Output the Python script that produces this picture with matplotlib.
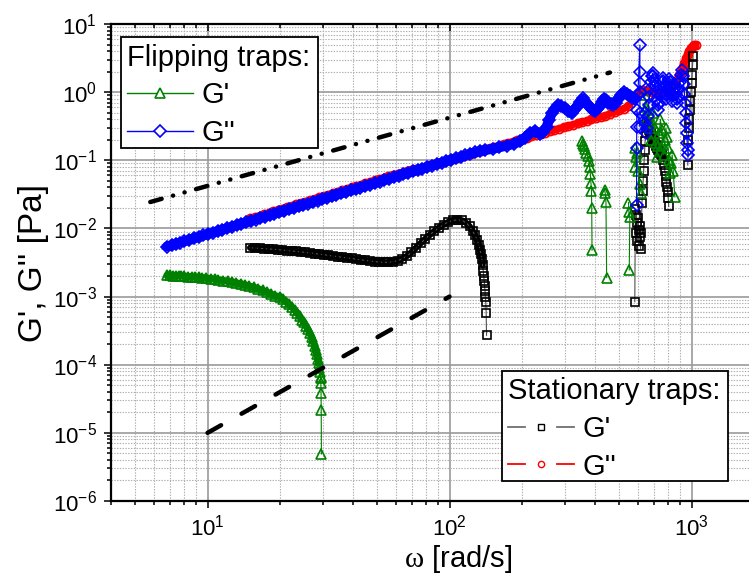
import numpy as np
import matplotlib
matplotlib.use("Agg")
import matplotlib.pyplot as plt
from matplotlib.lines import Line2D
from matplotlib.patches import Rectangle
from matplotlib.legend_handler import HandlerBase
from matplotlib.ticker import LogLocator, NullFormatter

plt.rcParams['font.family'] = ['Liberation Sans', 'DejaVu Sans']
plt.rcParams['mathtext.fontset'] = 'custom'
plt.rcParams['mathtext.rm'] = 'Liberation Sans'
plt.rcParams['mathtext.it'] = 'Liberation Serif'
plt.rcParams['mathtext.bf'] = 'Liberation Sans:bold'
plt.rcParams['axes.unicode_minus'] = False
plt.rcParams['lines.scale_dashes'] = False

nan = float('nan')

# ---------------- data ----------------
# Flipping traps, G' (green)
flip_gp_x = [6.8, 7.0, 7.2, 7.4, 7.6, 7.8, 8.0, 8.3, 8.6, 8.9, 9.2, 9.5, 9.9, 10.3, 10.7,
             11.1, 11.6, 12.1, 12.6, 13.1, 13.7, 14.3, 14.9, 15.5, 16.2, 16.9, 17.6, 18.3,
             19.0, 19.9, 20.5, 21.1, 21.7, 22.3, 22.9, 23.5, 24.0, 24.5, 25.0, 25.5, 26.0,
             26.5, 26.9, 27.3, 27.7, 28.0, 28.3, 28.6, 28.8, 29.0, 29.15, 29.3, 29.35, 29.4,
             29.45, 29.5, 29.55,
             nan,
             352, 356, 360, 364, 368, 372, 376, 379, 382, 384, 386, 387, 388,
             nan,
             437, 440, 443, 446,
             nan,
             549, 551, 556, 553,
             nan,
             583, 585, 588, 593, 600, 610, 620,
             nan,
             640, 648, 656, 664, 672, 680, 688, 696, 704, 712, 720, 728, 736, 744, 752, 760,
             768, 776, 784, 792, 800, 808, 816, 824, 832, 840, 853]
flip_gp_y = [2.05e-3, 2.04e-3, 2.03e-3, 2.02e-3, 2.01e-3, 2.0e-3, 1.99e-3, 1.97e-3, 1.95e-3,
             1.93e-3, 1.91e-3, 1.89e-3, 1.86e-3, 1.83e-3, 1.80e-3, 1.76e-3, 1.72e-3, 1.68e-3,
             1.64e-3, 1.59e-3, 1.54e-3, 1.48e-3, 1.42e-3, 1.37e-3, 1.30e-3, 1.23e-3, 1.16e-3,
             1.09e-3, 1.02e-3, 1.0e-3, 9.2e-4, 8.4e-4, 7.7e-4, 7.0e-4, 6.4e-4, 5.7e-4, 5.1e-4,
             4.6e-4, 4.2e-4, 3.7e-4, 3.3e-4, 2.9e-4, 2.55e-4, 2.2e-4, 1.9e-4, 1.65e-4, 1.42e-4,
             1.22e-4, 1.05e-4, 9.0e-5, 7.8e-5, 6.6e-5, 6.4e-5, 5.4e-5, 3.9e-5, 2.2e-5, 4.9e-6,
             nan,
             0.19, 0.175, 0.16, 0.145, 0.13, 0.115, 0.098, 0.08, 0.062, 0.047, 0.035, 0.0197,
             0.0048,
             nan,
             0.0366, 0.033, 0.0245, 0.0019,
             nan,
             0.024, 0.0176, 0.0148, 0.00245,
             nan,
             0.15, 0.08, 0.11, 0.13, 0.07, 0.045, 0.033,
             nan,
             0.9, 0.6, 0.4, 0.55, 0.3, 0.2, 0.35, 0.5, 0.3, 0.18, 0.11, 0.16, 0.25, 0.4, 0.28,
             0.17, 0.12, 0.2, 0.3, 0.22, 0.15, 0.1, 0.065, 0.09, 0.12, 0.07, 0.029]

# Flipping traps, G'' (blue)
flip_gpp_x = [6.8, 7.1, 7.4, 7.7, 8.0, 8.4, 8.8, 9.2, 9.6, 10.0, 10.5, 11.0, 11.5, 12.0, 12.6,
              13.2, 13.8, 14.4, 15.1, 15.8, 16.5, 17.3, 18.1, 18.9, 19.8, 20.7, 21.7, 22.7,
              23.8, 24.9, 26.0, 27.2, 28.5, 29.8, 31.2, 32.6, 34.1, 35.7, 37.4, 39.1, 40.9,
              42.8, 44.8, 46.9, 49.1, 51.4, 53.8, 56.3, 58.9, 61.6, 64.5, 67.5, 70.6, 73.9,
              77.3, 80.9, 84.7, 88.6, 92.7, 97.0, 101.5, 106.2, 111.1, 116.3, 121.7, 127.3,
              133.2, 140, 151.6, 160, 172.2, 185, 195.5, 205, 214.9, 225.4, 236.4, 244, 251.9,
              258, 264.1, 272, 281.4, 290, 299.9, 310, 319.6, 327, 335.2, 346, 356.9, 368,
              380.2, 390, 398.7, 408, 418.3, 426, 434.5, 444, 452.9, 464, 474.9, 486, 497.9,
              512, 525.7, 541, 556.6, 570, 583.4,
              600, 612, 612, 612, 612, 612, 612, 594, 594, 593, 593,
              nan,
              640, 645, 650, 655, 660, 665, 670, 675, 680, 685, 690, 695, 700, 706, 712, 718,
              724, 730, 736, 742, 748, 754, 760, 766, 772, 778, 784, 790, 796, 802, 808, 814,
              820, 826, 832, 838, 844, 850, 856, 862, 868, 874, 880, 888, 896, 904, 912, 920,
              928, 935, 940, 945, 950, 955, 960, 965, 970]
flip_gpp_y = [0.00542, 0.00568, 0.00594, 0.00620, 0.00646, 0.00681, 0.00717, 0.00752, 0.00788,
              0.00823, 0.00868, 0.00913, 0.00958, 0.01003, 0.01058, 0.01113, 0.01167, 0.01223,
              0.01288, 0.01352, 0.01417, 0.01492, 0.01567, 0.01642, 0.01727, 0.01813, 0.01908,
              0.02003, 0.02109, 0.02214, 0.02321, 0.02438, 0.02564, 0.02692, 0.02829, 0.02968,
              0.03115, 0.03274, 0.03443, 0.03614, 0.03795, 0.03986, 0.04190, 0.04403, 0.04628,
              0.04864, 0.05111, 0.05370, 0.05638, 0.05920, 0.06223, 0.06536, 0.06863, 0.07212,
              0.07574, 0.07955, 0.08362, 0.08782, 0.09226, 0.09690, 0.1018, 0.1069, 0.1123,
              0.1180, 0.1239, 0.1301, 0.1367, 0.141, 0.148, 0.155, 0.164, 0.175, 0.19, 0.215,
              0.25, 0.27, 0.245, 0.26, 0.311, 0.39, 0.489, 0.57, 0.647, 0.62, 0.579, 0.53,
              0.489, 0.54, 0.611, 0.72, 0.812, 0.7, 0.6, 0.54, 0.52, 0.56, 0.63, 0.72, 0.8,
              0.76, 0.7, 0.66, 0.65, 0.7, 0.8, 0.92, 1.0, 0.95, 0.88, 0.82, 0.8,
              0.9, 4.9, 2.0, 1.35, 1.0, 0.49, 0.31, 0.55, 0.31, 0.15, 0.022,
              nan,
              0.5, 0.35, 0.25, 0.3, 0.45, 0.65, 0.85, 1.1, 1.4, 1.7, 1.9, 1.75, 1.5, 1.25, 1.0,
              0.8, 0.65, 0.55, 0.7, 0.9, 1.15, 1.4, 1.6, 1.45, 1.2, 0.95, 0.8, 0.9, 1.1, 1.35,
              1.55, 1.4, 1.15, 0.9, 0.75, 0.9, 1.1, 1.3, 1.15, 0.95, 0.8, 0.7, 0.85, 1.1, 1.4,
              1.8, 2.1, 1.7, 1.3, 0.95, 0.7, 0.5, 0.35, 0.25, 0.18, 0.14, 0.12]

# Stationary traps, G' (black)
stat_gp_x = [15.0, 15.7, 16.4, 17.1, 17.9, 18.7, 19.5, 20.4, 21.3, 22.3, 23.3, 24.3, 25.4,
             26.5, 27.7, 29.0, 30.3, 31.6, 33.0, 34.5, 36.1, 37.7, 39.4, 41.2, 43.0, 44.9,
             46.9, 49.0, 51.2, 53.5, 55.9, 58.4, 61.0, 63.7, 66.6, 69.6, 72.7, 75.9, 79.3,
             82.9, 86.6, 90.5, 94.5, 98.8, 103.2, 107.8, 112.6, 117.0, 121.0, 124.5, 127.5,
             130.0, 132.0, 133.7, 135.0, 136.1, 137.0, 137.8, 138.5, 139.1, 139.7, 140.2,
             140.7, 141.2, 141.7, 142.2,
             nan,
             583, 586, 589, 592, 595, 598, 601, 604, 607, 610, 613, 616, 619, 624, 628, 631,
             634, 637, 640, 643, 646, 649, 652, 655, 658, 661, 664, 667, 670, 674, 678, 682,
             686, 690, 695, 700, 705, 710, 716, 722, 728, 734, 740, 746, 752, 758, 765, 770,
             776, 782, 788, 793, 797, 801, 805,
             nan,
             965, 970, 975, 980, 985, 990, 995, 1000, 1005, 1010, 1015]
stat_gp_y = [5.20e-3, 5.15e-3, 5.10e-3, 5.05e-3, 5.00e-3, 4.94e-3, 4.88e-3, 4.81e-3, 4.74e-3,
             4.67e-3, 4.60e-3, 4.53e-3, 4.45e-3, 4.37e-3, 4.28e-3, 4.19e-3, 4.10e-3, 4.02e-3,
             3.94e-3, 3.86e-3, 3.78e-3, 3.70e-3, 3.62e-3, 3.54e-3, 3.46e-3, 3.39e-3, 3.32e-3,
             3.26e-3, 3.21e-3, 3.18e-3, 3.18e-3, 3.24e-3, 3.36e-3, 3.58e-3, 3.93e-3, 4.45e-3,
             5.20e-3, 6.05e-3, 7.00e-3, 8.05e-3, 9.15e-3, 1.03e-2, 1.14e-2, 1.24e-2, 1.31e-2,
             1.34e-2, 1.31e-2, 1.21e-2, 1.07e-2, 9.2e-3, 7.9e-3, 6.8e-3, 5.8e-3, 4.9e-3,
             4.15e-3, 3.5e-3, 2.9e-3, 2.4e-3, 2.0e-3, 1.68e-3, 1.42e-3, 1.2e-3, 1.0e-3,
             8.2e-4, 5.8e-4, 2.7e-4,
             nan,
             8.4e-4, 0.019, 0.0086, 0.016, 0.012, 0.0066, 0.014, 0.0095, 0.0055, 0.011, 0.0075,
             0.005, 0.0085, 0.024, 0.035, 0.05, 0.07, 0.1, 0.14, 0.19, 0.25, 0.3, 0.34, 0.37,
             0.35, 0.33, 0.31, 0.3, 0.28, 0.27, 0.255, 0.24, 0.225, 0.21, 0.2, 0.19, 0.18,
             0.17, 0.16, 0.15, 0.142, 0.135, 0.13, 0.125, 0.122, 0.12, 0.1, 0.085, 0.07,
             0.058, 0.048, 0.04, 0.034, 0.028, 0.021,
             nan,
             0.085, 0.2, 0.3, 0.4, 0.55, 0.75, 1.0, 1.35, 1.8, 2.5, 3.4]

# Stationary traps, G'' (red)
stat_gpp_x = [15.0, 15.7, 16.4, 17.1, 17.9, 18.7, 19.5, 20.4, 21.3, 22.3, 23.3, 24.3, 25.4,
              26.5, 27.7, 29.0, 30.3, 31.6, 33.0, 34.5, 36.1, 37.7, 39.4, 41.2, 43.0, 44.9,
              46.9, 49.0, 51.2, 53.5, 55.9, 58.4, 61.0, 63.7, 66.6, 69.6, 72.7, 75.9, 79.3,
              82.9, 86.6, 90.5, 94.5, 98.8, 103.2, 107.8, 112.6, 117.7, 123.0, 128.5, 134.3,
              140.3, 146.6, 153.2, 160.1, 167.3, 174.8, 182.7, 190.9, 199.5, 208.5, 217.9,
              227.7, 237.9, 248.6, 259.8, 271.5, 283.7, 296.5, 309.8, 323.7, 338.3, 353.5,
              369.4, 386.0, 403.4, 421.6, 440.5, 460.3, 481.0, 502.6, 525.2, 548.8, 573.5,
              599.3, 626.3, 654.5, 683.9, 714.7, 746.9, 780.5, 815.6, 852.3, 890.7, 905, 920,
              935, 950, 965, 980, 995, 1010, 1025, 1040]
stat_gpp_y = [0.01402, 0.01473, 0.01544, 0.01616, 0.01698, 0.01780, 0.01863, 0.01956, 0.02050,
              0.02155, 0.02260, 0.02366, 0.02482, 0.02599, 0.02727, 0.02866, 0.03005, 0.03146,
              0.03297, 0.03459, 0.03634, 0.03809, 0.03996, 0.04195, 0.04393, 0.04604, 0.04829,
              0.05063, 0.05310, 0.05569, 0.05840, 0.06124, 0.06348, 0.06607, 0.06888, 0.07175,
              0.07470, 0.07773, 0.08096, 0.08438, 0.08785, 0.09151, 0.09526, 0.09954, 0.1036,
              0.1086, 0.1139, 0.1195, 0.1253, 0.1315, 0.1379, 0.144, 0.151, 0.157, 0.164,
              0.172, 0.180, 0.188, 0.196, 0.205, 0.214, 0.224, 0.234, 0.244, 0.255, 0.267,
              0.279, 0.291, 0.305, 0.318, 0.333, 0.348, 0.363, 0.380, 0.397, 0.415, 0.43, 0.45,
              0.48, 0.51, 0.54, 0.57, 0.63, 0.78, 0.98, 1.08, 1.05, 1.0, 0.97, 0.97, 1.0,
              1.05, 1.3, 1.8, 2.0, 2.3, 2.7, 3.2, 3.6, 4.0, 4.4, 4.75, 4.9, 4.95]

# guide lines
guide_slope1_x = [5.8, 460]
guide_slope1_y = [0.0244, 1.94]
guide_slope2_x = [10, 100]
guide_slope2_y = [1e-5, 1e-3]

xlim = (3.98, 1728)
ylim = (1e-6, 10)

# last index of the densely sampled (overlapping) part of each series
n_green_dense = flip_gp_x.index(28.8) + 1
n_blue_dense = flip_gpp_x.index(583.4) + 1
n_black_dense = stat_gp_x.index(137.0) + 1
n_red_dense = len(stat_gpp_x)

# ---------------- figure ----------------
W, H = 749, 584
fig = plt.figure(figsize=(W / 100, H / 100), dpi=100)
L, R, T, B = 110.7, 749, 24, 501
ax = fig.add_axes([L / W, 1 - B / H, (R - L) / W, (B - T) / H])
ax.set_xscale('log')
ax.set_yscale('log')
ax.set_xlim(*xlim)
ax.set_ylim(*ylim)

ax.set_axisbelow(True)
ax.grid(which='major', color='#9a9a9a', lw=1.2, ls='-')
ax.grid(which='minor', color='#b0b0b0', lw=0.8, ls=(0, (1.0, 1.0)))

ax.xaxis.set_minor_locator(LogLocator(base=10, subs=np.arange(2, 10), numticks=50))
ax.yaxis.set_minor_locator(LogLocator(base=10, subs=np.arange(2, 10), numticks=50))
ax.yaxis.set_major_locator(LogLocator(base=10, numticks=50))
ax.xaxis.set_minor_formatter(NullFormatter())
ax.yaxis.set_minor_formatter(NullFormatter())

for s in ['left', 'bottom', 'top']:
    ax.spines[s].set_linewidth(1.6)
ax.spines['right'].set_visible(False)

ax.tick_params(which='both', direction='out', top=False, right=False, width=1.1,
               labelsize=16, colors='black')
ax.tick_params(which='major', length=5)
ax.tick_params(which='minor', length=3)
ax.tick_params(axis='x', which='both', pad=5)
ax.tick_params(axis='y', which='both', pad=5)

# inward ticks on the top edge
axt = ax.twiny()
axt.set_xscale('log')
axt.set_xlim(*xlim)
axt.xaxis.set_minor_locator(LogLocator(base=10, subs=np.arange(2, 10), numticks=50))
axt.xaxis.set_major_formatter(NullFormatter())
axt.xaxis.set_minor_formatter(NullFormatter())
axt.tick_params(which='both', direction='in', width=1.1, top=True, labeltop=False)
axt.tick_params(which='major', length=5)
axt.tick_params(which='minor', length=3)
for s in axt.spines.values():
    s.set_visible(False)

# data: dense parts form solid bands of overlapping symbols
ax.plot(stat_gpp_x[:n_red_dense], stat_gpp_y[:n_red_dense], color='red', lw=5.0,
        solid_capstyle='round', zorder=3)
ax.plot(stat_gpp_x, stat_gpp_y, color='red', lw=0.8, marker='o', ms=5.8,
        mfc='none', mec='red', mew=1.3, zorder=3)
ax.plot(stat_gp_x[:n_black_dense], stat_gp_y[:n_black_dense], color='black', lw=4.6,
        solid_capstyle='round', zorder=4)
ax.plot(stat_gp_x, stat_gp_y, color='#505050', lw=0.8, marker='s', ms=5.4,
        mfc='none', mec='black', mew=1.2, zorder=4)
ax.plot(flip_gp_x[:n_green_dense], flip_gp_y[:n_green_dense], color='#008000', lw=5.2,
        solid_capstyle='round', zorder=5)
ax.plot(flip_gp_x, flip_gp_y, color='#008000', lw=0.8, marker='^', ms=7.0,
        mfc='none', mec='#008000', mew=1.2, zorder=5)
ax.plot(flip_gpp_x[:n_blue_dense], flip_gpp_y[:n_blue_dense], color='#0000ff', lw=7.2,
        solid_capstyle='round', zorder=6)
ax.plot(flip_gpp_x, flip_gpp_y, color='#0000ff', lw=0.8, marker='D', ms=6.4,
        mfc='none', mec='#0000ff', mew=1.2, zorder=6)

ax.plot(guide_slope1_x, guide_slope1_y, color='black', lw=3.2, solid_capstyle='round',
        dash_capstyle='round', ls=(0, (8.5, 8.5, 0.1, 8.5, 0.1, 8.5)), zorder=7)
ax.plot(guide_slope2_x, guide_slope2_y, color='black', lw=3.2, dash_capstyle='round',
        ls=(0, (11.2, 16.9)), zorder=7)

ax.set_xlabel(r'$\omega$ [rad/s]', fontsize=21)
ax.set_ylabel("G', G'' [Pa]", fontsize=24)
ax.xaxis.set_label_coords((458 - L) / (R - L), -0.088)
ax.yaxis.set_label_coords((49 - L) / (R - L), 0.5)


class GapHandler(HandlerBase):
    def __init__(self, gap=0.0, **kw):
        super().__init__(**kw)
        self.gap = gap

    def create_artists(self, legend, orig_handle, xdescent, ydescent, width, height,
                       fontsize, trans):
        y = height / 2.0 - ydescent
        x0 = -xdescent
        x1 = x0 + width
        xm = 0.5 * (x0 + x1)
        g = width * self.gap
        segs = [([x0, xm - g], [y, y]), ([xm + g, x1], [y, y])] if g > 0 else [([x0, x1], [y, y])]
        arts = []
        for xs, ys in segs:
            ln = Line2D(xs, ys, color=orig_handle.get_color(), lw=orig_handle.get_linewidth())
            ln.set_transform(trans)
            arts.append(ln)
        mk = Line2D([xm], [y], ls='none', marker=orig_handle.get_marker(),
                    ms=orig_handle.get_markersize(), mec=orig_handle.get_markeredgecolor(),
                    mfc=orig_handle.get_markerfacecolor(), mew=orig_handle.get_markeredgewidth())
        mk.set_transform(trans)
        arts.append(mk)
        return arts


h_grn = Line2D([], [], color='#008000', lw=1.0, marker='^', ms=7, mfc='white', mec='#008000', mew=1.2)
h_blu = Line2D([], [], color='#0000ff', lw=1.0, marker='D', ms=6, mfc='white', mec='#0000ff', mew=1.2)
h_blk = Line2D([], [], color='#707070', lw=1.3, marker='s', ms=4.5, mfc='white', mec='black', mew=1.0)
h_red = Line2D([], [], color='red', lw=1.3, marker='o', ms=4.5, mfc='white', mec='red', mew=1.0)

# legend frames (drawn as boxes in figure pixels)
def legend_box(x0, y0, x1, y1):
    r = Rectangle((x0 / W, 1 - y1 / H), (x1 - x0) / W, (y1 - y0) / H,
                  transform=fig.transFigure, facecolor='white', edgecolor='black',
                  lw=1.3, zorder=19, clip_on=False)
    ax.add_artist(r)

legend_box(120.7, 37.3, 318, 148)
legend_box(501.7, 371, 728, 481)

leg_kw = dict(fontsize=21, title_fontsize=21, frameon=False, borderaxespad=0,
              handlelength=2.25, handletextpad=0.3, labelspacing=0.33, borderpad=0.22,
              alignment='left')
leg1 = ax.legend([h_grn, h_blu], ["G'", "G''"], title='Flipping traps:', loc='upper left',
                 bbox_to_anchor=(120.7 / W, 1 - 37.3 / H), bbox_transform=fig.transFigure,
                 handler_map={h_grn: GapHandler(0.0), h_blu: GapHandler(0.0)}, **leg_kw)
leg1.set_zorder(20)
ax.add_artist(leg1)
leg2 = ax.legend([h_blk, h_red], ["G'", "G''"], title='Stationary traps:', loc='upper left',
                 bbox_to_anchor=(501.7 / W, 1 - 371 / H), bbox_transform=fig.transFigure,
                 handler_map={h_blk: GapHandler(0.25), h_red: GapHandler(0.25)}, **leg_kw)
leg2.set_zorder(20)

fig.savefig('out.png', dpi=100)
